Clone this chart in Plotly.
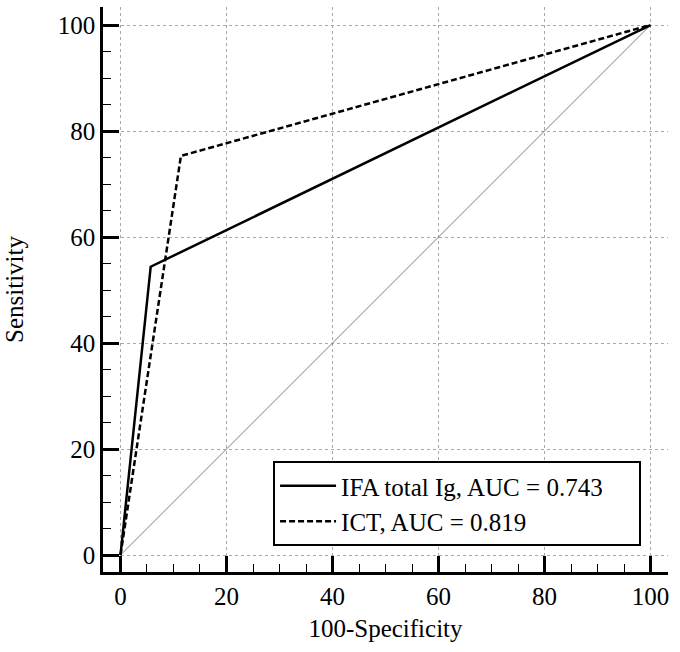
import plotly.graph_objects as go

# Data
ifa_x = [0, 5.7, 100]
ifa_y = [0, 54.4, 100]
ict_x = [0, 11.4, 100]
ict_y = [0, 75.3, 100]
diag_x = [0, 100]
diag_y = [0, 100]
tick_vals = [0, 20, 40, 60, 80, 100]
names = ["IFA total Ig, AUC = 0.743", "ICT, AUC = 0.819"]

FONT = "Liberation Serif, Times New Roman, serif"
FS = 25
PAD = "\u00a0" * 5

fig = go.Figure()
fig.add_trace(go.Scatter(x=diag_x, y=diag_y, mode="lines",
                         line=dict(color="#7a7a7a", width=1), showlegend=False,
                         hoverinfo="skip"))
fig.add_trace(go.Scatter(x=ifa_x, y=ifa_y, mode="lines", name=names[0] + PAD,
                         line=dict(color="black", width=2.5)))
fig.add_trace(go.Scatter(x=ict_x, y=ict_y, mode="lines", name=names[1],
                         line=dict(color="black", width=2.5, dash="6px,3px")))

axis_common = dict(
    tickvals=tick_vals,
    ticks="inside", ticklen=16, tickwidth=2.5, tickcolor="black",
    minor=dict(dtick=5, ticks="inside", ticklen=8, tickwidth=1.2,
               tickcolor="black", showgrid=False),
    showline=True, linecolor="black", linewidth=2.5,
    showgrid=True, gridcolor="#a8a8a8", gridwidth=1, griddash="dot",
    zeroline=False,
    tickfont=dict(family=FONT, size=FS, color="black"),
    title_font=dict(family=FONT, size=FS, color="black"),
)

fig.update_xaxes(range=[-3.3, 103.3], title_text="100-Specificity",
                 title_standoff=11, **axis_common)
fig.update_yaxes(range=[-3.2, 103.4], title_text="Sensitivity",
                 title_standoff=28, **axis_common)

fig.update_layout(
    width=680, height=652,
    margin=dict(l=103, r=12, t=7, b=80),
    plot_bgcolor="white", paper_bgcolor="white",
    font=dict(family=FONT, size=FS, color="black"),
    legend=dict(x=0.301, y=0.046, xanchor="left", yanchor="bottom",
                bgcolor="white", bordercolor="black", borderwidth=2,
                font=dict(family=FONT, size=FS, color="black"),
                tracegroupgap=0, itemwidth=56),
)

fig.write_html("out.html")
